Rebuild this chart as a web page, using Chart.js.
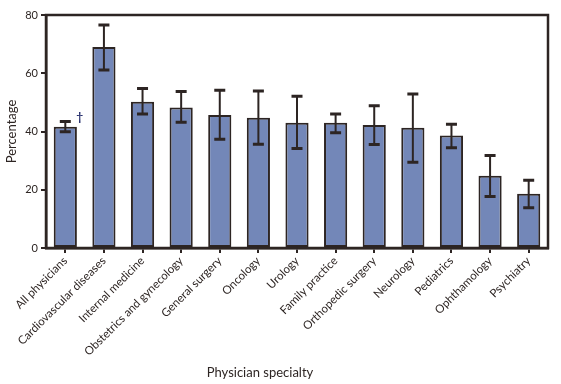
<!DOCTYPE html>
<html>
<head>
<meta charset="utf-8">
<script src="https://cdn.jsdelivr.net/npm/chart.js@4"></script>
<style>
  html, body { margin: 0; padding: 0; background: #fff; }
  #wrap { width: 561px; height: 384px; position: relative; }
</style>
</head>
<body>
<div id="wrap"><canvas id="specialtyChart"></canvas></div>
<script>
const specialties = [
    'All physicians', 'Cardiovascular diseases', 'Internal medicine',
    'Obstetrics and gynecology', 'General surgery', 'Oncology', 'Urology',
    'Family practice', 'Orthopedic surgery', 'Neurology', 'Pediatrics',
    'Ophthamology', 'Psychiatry'
];
const percentages = [41.6, 69.0, 50.2, 48.2, 45.7, 44.7, 43.0, 43.0, 42.2, 41.3, 38.6, 24.8, 18.6];
const ciLower = [39.9, 61.1, 46.0, 43.2, 37.3, 35.6, 34.2, 39.6, 35.5, 29.4, 34.4, 17.7, 13.8];
const ciUpper = [43.4, 76.6, 54.8, 53.7, 54.2, 53.9, 52.1, 46.0, 48.8, 52.9, 42.5, 31.8, 23.3];
const yTicks = [0, 20, 40, 60, 80];

const INK = '#2d2523';
const FONT = 'Lato, "DejaVu Sans", sans-serif';

// error bars + dagger + frame, drawn from the chart's own scales
const errorBarPlugin = {
    id: 'errorBars',
    afterDatasetsDraw(chart) {
        const ctx = chart.ctx;
        const x = chart.scales.x;
        const y = chart.scales.y;
        const area = chart.chartArea;
        ctx.save();
        ctx.strokeStyle = INK;
        specialties.forEach((name, i) => {
            const cx = x.getPixelForValue(i);
            const top = y.getPixelForValue(ciUpper[i]);
            const bot = y.getPixelForValue(ciLower[i]);
            ctx.lineWidth = 2;
            ctx.beginPath();
            ctx.moveTo(cx, top);
            ctx.lineTo(cx, bot);
            ctx.stroke();
            ctx.lineWidth = 3;
            ctx.beginPath();
            ctx.moveTo(cx - 5.5, top);
            ctx.lineTo(cx + 5.5, top);
            ctx.moveTo(cx - 5.5, bot);
            ctx.lineTo(cx + 5.5, bot);
            ctx.stroke();
        });
        // dagger on the first bar
        const dx = x.getPixelForValue(0) + 11;
        const dy = y.getPixelForValue(ciUpper[0]) - 4;
        ctx.fillStyle = '#27306e';
        ctx.font = 'bold 12px ' + FONT;
        ctx.textAlign = 'left';
        ctx.textBaseline = 'middle';
        ctx.fillText('\u2020', dx, dy);

        // plot frame
        ctx.lineWidth = 2.5;
        ctx.strokeStyle = INK;
        ctx.strokeRect(area.left, area.top, area.right - area.left, area.bottom - area.top);

        // x-axis title
        ctx.fillStyle = INK;
        ctx.font = '13px ' + FONT;
        ctx.textAlign = 'center';
        ctx.textBaseline = 'middle';
        ctx.fillText('Physician specialty', 260, 373);
        ctx.restore();
    }
};

new Chart(document.getElementById('specialtyChart').getContext('2d'), {
    type: 'bar',
    data: {
        labels: specialties,
        datasets: [{
            data: percentages,
            backgroundColor: '#7387b8',
            borderColor: INK,
            borderWidth: 2,
            borderSkipped: false,
            categoryPercentage: 1,
            barPercentage: 0.6
        }]
    },
    options: {
        responsive: true,
        maintainAspectRatio: false,
        animation: false,
        layout: { padding: { top: 15, right: 13, left: 0, bottom: 0 } },
        plugins: {
            legend: { display: false },
            tooltip: { enabled: false }
        },
        scales: {
            x: {
                offset: true,
                grid: {
                    offset: false,
                    drawOnChartArea: false,
                    drawTicks: true,
                    tickLength: 5,
                    color: INK,
                    lineWidth: 2
                },
                border: { color: INK, width: 2.5 },
                ticks: {
                    autoSkip: false,
                    minRotation: 45,
                    maxRotation: 45,
                    padding: 1,
                    color: INK,
                    font: { family: FONT, size: 11.5 }
                },
                afterFit(scale) { scale.height = 136; }
            },
            y: {
                min: 0,
                max: 80,
                afterBuildTicks(scale) { scale.ticks = yTicks.map(v => ({ value: v })); },
                grid: {
                    drawOnChartArea: false,
                    drawTicks: true,
                    tickLength: 5,
                    color: INK,
                    lineWidth: 2
                },
                border: { color: INK, width: 2.5 },
                ticks: {
                    padding: 3,
                    color: INK,
                    font: { family: FONT, size: 11 }
                },
                title: {
                    display: true,
                    text: 'Percentage',
                    color: INK,
                    font: { family: FONT, size: 13 },
                    padding: { top: 4, bottom: 0 }
                },
                afterFit(scale) { scale.width = 46; }
            }
        }
    },
    plugins: [errorBarPlugin]
});
</script>
</body>
</html>
